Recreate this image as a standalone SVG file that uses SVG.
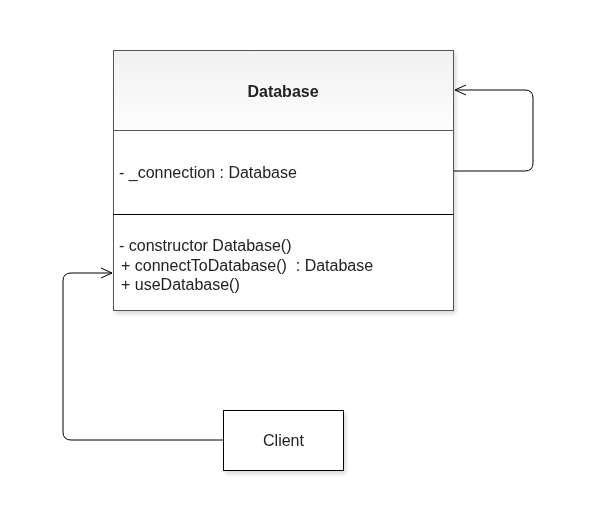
<svg xmlns="http://www.w3.org/2000/svg" width="609" height="532" viewBox="0 0 609 532">
<defs>
<linearGradient id="hdr" x1="0" y1="0" x2="0" y2="1">
<stop offset="0" stop-color="#f1f1f1"/>
<stop offset="1" stop-color="#fdfdfd"/>
</linearGradient>
<filter id="sh" x="-10%" y="-10%" width="130%" height="130%">
<feGaussianBlur in="SourceAlpha" stdDeviation="2"/>
<feOffset dx="2" dy="3" result="b"/>
<feComponentTransfer><feFuncA type="linear" slope="0.15"/></feComponentTransfer>
<feMerge><feMergeNode/><feMergeNode in="SourceGraphic"/></feMerge>
</filter>
<marker id="open" markerWidth="14" markerHeight="12" refX="12" refY="6" orient="auto" markerUnits="userSpaceOnUse">
<path d="M1,1 L12,6 L1,11" fill="none" stroke="#000" stroke-width="1"/>
</marker>
<style>
text{font-family:"Liberation Sans",Arial,sans-serif;fill:#222;white-space:pre;}
.t{font-size:16px;}
.b{font-size:16px;font-weight:bold;}
.edge{fill:none;stroke:#000;stroke-width:1;}
</style>
</defs>
<rect width="609" height="532" fill="#fff"/>
<g id="connectors">
<path class="edge" d="M453,171 H525 Q533,171 533,163 V98 Q533,90 525,90 H455" marker-end="url(#open)"/>
<path class="edge" d="M223,440 H71 Q63,440 63,432 V281 Q63,273 71,273 H112" marker-end="url(#open)"/>
</g>
<g id="database" filter="url(#sh)">
<rect x="113.5" y="50.5" width="340" height="80" fill="url(#hdr)" stroke="#555"/>
<rect x="113.5" y="130.5" width="340" height="180" fill="#fff" stroke="#555"/>
<line x1="113.5" y1="214.5" x2="453.5" y2="214.5" stroke="#000"/>
<text class="b" x="283" y="97" text-anchor="middle">Database</text>
<text class="t" x="119" y="178">- _connection : Database</text>
<text class="t" x="119" y="251">- constructor Database()</text>
<text class="t" x="121" y="271" xml:space="preserve">+ connectToDatabase()  : Database</text>
<text class="t" x="121" y="290">+ useDatabase()</text>
</g>
<g id="client" filter="url(#sh)">
<rect x="223.5" y="410.5" width="120" height="60" fill="#fff" stroke="#000"/>
<text class="t" x="283.5" y="446" text-anchor="middle">Client</text>
</g>
</svg>
